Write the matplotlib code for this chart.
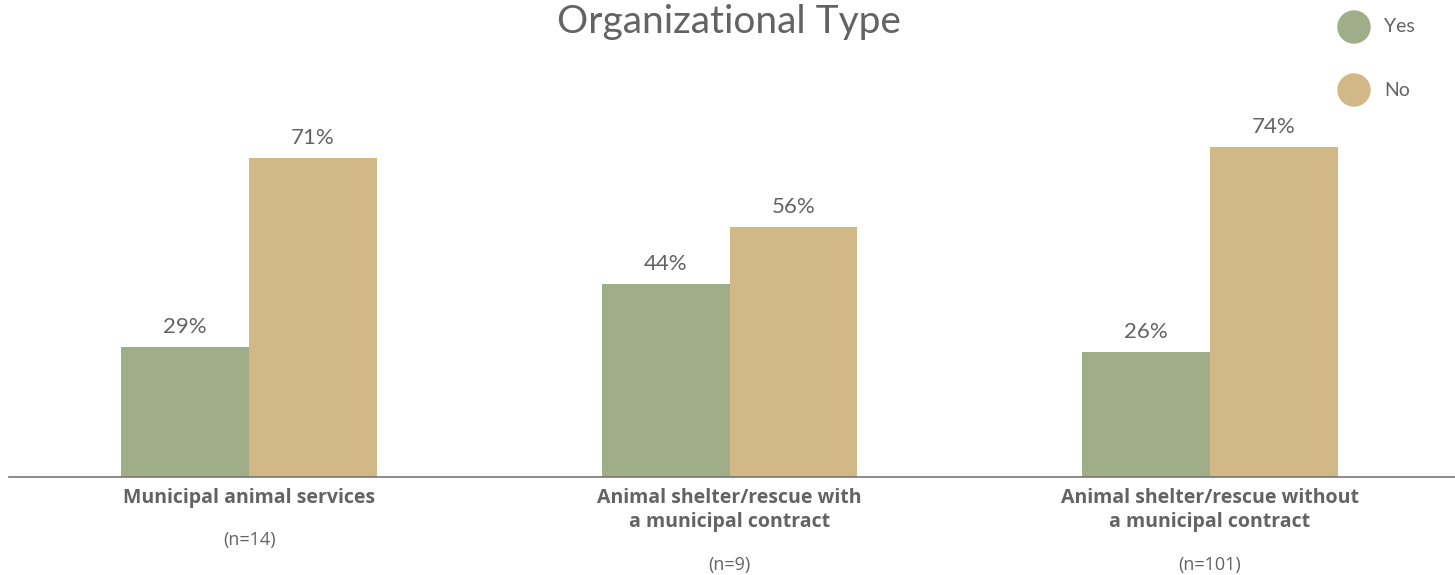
import matplotlib
matplotlib.use('Agg')
from matplotlib import pyplot as plt
from matplotlib.patches import Ellipse
import numpy as np

categories = ['Municipal animal services',
              'Animal shelter/rescue with\na municipal contract',
              'Animal shelter/rescue without\na municipal contract']
n_labels = ['(n=14)', '(n=9)', '(n=101)']
yes_vals = [29, 43.1, 27.9]
no_vals = [71.3, 55.9, 73.8]
yes_labels = ['29%', '44%', '26%']
no_labels = ['71%', '56%', '74%']

green = '#9fae88'
tan = '#d2b886'
grey = '#636363'

plt.rcParams['font.family'] = ['Lato', 'DejaVu Sans']

fig = plt.figure(figsize=(14.55, 5.75), dpi=100)
ax = fig.add_axes([9/1455, 98.5/575, 1 - 9/1455, 447/575])

x = np.arange(len(categories))
w = 0.266
bars_yes = ax.bar(x - w/2, yes_vals, w, color=green, label='Yes')
bars_no = ax.bar(x + w/2, no_vals, w, color=tan, label='No')

for bars, labels in ((bars_yes, yes_labels), (bars_no, no_labels)):
    for b, t in zip(bars, labels):
        ax.annotate(t, (b.get_x() + b.get_width()/2, b.get_height()),
                    xytext=(0, 7), textcoords='offset points', ha='center', va='bottom',
                    fontsize=16, color=grey)

ax.set_xlim(-0.5, 2.51)
ax.set_ylim(0, 100)
ax.set_yticks([])
ax.set_xticks([])
for s in ['top', 'right', 'left']:
    ax.spines[s].set_visible(False)
ax.spines['bottom'].set_color('#777777')
ax.spines['bottom'].set_linewidth(1.2)

for i, cat in enumerate(categories):
    ax.annotate(cat, (i, 0), xycoords=('data', 'axes fraction'), xytext=(0, -8),
                textcoords='offset points', ha='center', va='top', fontsize=14,
                fontweight='bold', color=grey, linespacing=1.3,
                family=['Open Sans', 'DejaVu Sans'])
    lines = cat.count('\n') + 1
    off = -46 if lines == 1 else -64
    ax.annotate(n_labels[i], (i, 0), xycoords=('data', 'axes fraction'), xytext=(0, off),
                textcoords='offset points', ha='center', va='center', fontsize=13,
                color=grey, family=['Open Sans', 'DejaVu Sans'])

fig.text(729/1455, 1 - 22/575, 'Organizational Type', ha='center', va='center',
         fontsize=28, color=grey)

# legend drawn by hand to match the stacked layout
for lab, col, yy in [('Yes', green, 27), ('No', tan, 90)]:
    fig.patches.append(Ellipse((1354/1455, 1 - yy/575), 32/1455, 32/575,
                               transform=fig.transFigure, color=col))
    fig.text(1384/1455, 1 - yy/575, lab, ha='left', va='center', fontsize=14, color=grey)

fig.savefig('out.png', dpi=100)
